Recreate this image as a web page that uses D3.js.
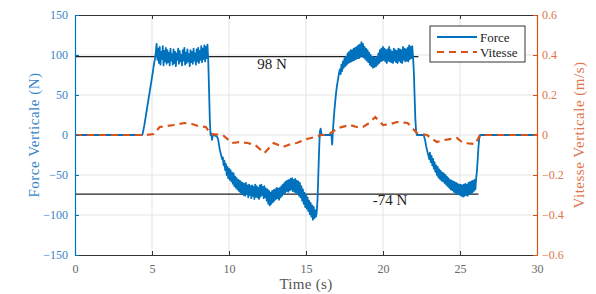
<!DOCTYPE html>
<html>
<head>
<meta charset="utf-8">
<script src="https://cdn.jsdelivr.net/npm/d3@7"></script>
<style>
  body { margin: 0; background: #fff; }
  svg text { font-family: "Liberation Serif", "Times New Roman", serif; }
</style>
</head>
<body>
<svg id="chart" width="596" height="294" font-family="Liberation Serif"></svg>
<script>
// FORCE / VITESSE CHART

// DATA
// force sampled every 0.05 s from 0 to 30 s (one line per second)
var sampleStep = 0.05;
var forceN = [
  0, 0, 0, 0, 0, 0, 0, 0, 0, 0, 0, 0, 0, 0, 0, 0, 0, 0, 0, 0,
  0, 0, 0, 0, 0, 0, 0, 0, 0, 0, 0, 0, 0, 0, 0, 0, 0, 0, 0, 0,
  0, 0, 0, 0, 0, 0, 0, 0, 0, 0, 0, 0, 0, 0, 0, 0, 0, 0, 0, 0,
  0, 0, 0, 0, 0, 0, 0, 0, 0, 0, 0, 0, 0, 0, 0, 0, 0, 0, 0, 0,
  0, 0, 0, 0, 0, 0, 0, 0, 2, 7, 12, 18, 24, 30, 36, 42, 48, 54, 60, 66,
  72, 78, 85, 91, 96, 104, 114, 94, 108, 90, 110, 88, 104, 95, 111, 87, 105, 92, 109, 89,
  106, 91, 103, 87, 108, 93, 101, 88, 107, 90, 104, 86, 102, 94, 108, 89, 105, 92, 100, 87,
  106, 93, 109, 88, 103, 90, 107, 92, 101, 86, 106, 91, 104, 89, 108, 93, 102, 88, 107, 92,
  109, 90, 105, 94, 111, 91, 108, 95, 112, 92, 110, 96, 113, 94, 60, 22, 0, 2, -6, 0,
  0, 0, -1, -1, -2, -3, -6, -12, -18, -22, -26, -30, -28, -38, -32, -44, -36, -50, -40, -54,
  -42, -56, -44, -58, -47, -61, -48, -64, -52, -66, -54, -68, -56, -70, -57, -72, -59, -73, -60, -75,
  -61, -76, -60, -74, -63, -78, -62, -75, -64, -79, -63, -76, -65, -80, -62, -77, -64, -78, -66, -80,
  -63, -77, -62, -75, -65, -79, -64, -78, -67, -82, -68, -86, -70, -88, -72, -86, -70, -84, -69, -82,
  -68, -80, -66, -79, -67, -81, -66, -78, -64, -76, -62, -74, -60, -72, -58, -70, -57, -71, -56, -69,
  -55, -68, -54, -70, -56, -71, -55, -72, -57, -73, -58, -76, -60, -78, -64, -82, -68, -86, -72, -90,
  -75, -92, -78, -95, -82, -99, -85, -102, -88, -106, -90, -104, -94, -102, -96, -80, -50, -20, 4, 8,
  2, 0, 0, 0, 0, 0, 0, 0, 0, 0, 0, 0, 0, 0, -12, 6, 20, 32, 42, 52,
  60, 66, 72, 78, 82, 76, 88, 80, 92, 84, 96, 86, 98, 88, 102, 90, 104, 91, 106, 92,
  106, 93, 108, 94, 109, 95, 110, 96, 112, 96, 113, 98, 116, 99, 114, 97, 110, 95, 108, 93,
  106, 91, 103, 88, 100, 86, 98, 84, 97, 85, 96, 86, 98, 88, 102, 90, 106, 92, 108, 93,
  110, 94, 108, 92, 106, 90, 107, 93, 110, 92, 106, 91, 104, 90, 108, 93, 106, 91, 105, 90,
  108, 93, 107, 91, 106, 90, 110, 94, 108, 92, 107, 93, 109, 92, 112, 95, 110, 96, 111, 97,
  80, 50, 20, 4, 0, 0, 0, 0, 0, 0, 0, 0, 0, 0, -4, -8, -14, -18, -22, -26,
  -30, -22, -34, -26, -38, -30, -42, -34, -46, -38, -50, -40, -53, -43, -55, -45, -57, -47, -58, -48,
  -60, -50, -62, -52, -64, -54, -66, -56, -68, -57, -69, -58, -71, -59, -72, -60, -73, -61, -74, -62,
  -75, -62, -76, -63, -77, -62, -76, -61, -75, -62, -76, -60, -74, -59, -73, -58, -72, -57, -70, -56,
  -68, -54, -45, -30, -15, -4, 0, 0, 0, 0, 0, 0, 0, 0, 0, 0, 0, 0, 0, 0,
  0, 0, 0, 0, 0, 0, 0, 0, 0, 0, 0, 0, 0, 0, 0, 0, 0, 0, 0, 0,
  0, 0, 0, 0, 0, 0, 0, 0, 0, 0, 0, 0, 0, 0, 0, 0, 0, 0, 0, 0,
  0, 0, 0, 0, 0, 0, 0, 0, 0, 0, 0, 0, 0, 0, 0, 0, 0, 0, 0, 0,
  0
];

var vitesseT = [0, 4.6, 5.1, 5.5, 6.0, 6.4, 7.1, 7.6, 8.0, 8.5, 8.8, 9.6, 10.2, 10.7, 11.2, 11.7,
  12.3, 12.9, 13.5, 14.0, 14.4, 15.05, 15.6, 16.0, 16.4, 17.1, 17.85, 18.3, 18.7, 19.1, 19.5,
  20.0, 20.5, 20.9, 21.6, 22.2, 22.85, 23.5, 24.0, 24.8, 25.2, 26.0, 26.3, 30];
var vitesseV = [0, 0, 0.005, 0.04, 0.045, 0.05, 0.06, 0.055, 0.045, 0.04, 0.005, 0, -0.04, -0.035, -0.04, -0.05,
  -0.09, -0.04, -0.06, -0.045, -0.04, -0.02, -0.01, 0, 0, 0.035, 0.05, 0.04, 0.04, 0.06, 0.09,
  0.05, 0.055, 0.065, 0.06, 0.01, 0, -0.035, -0.025, -0.015, -0.04, -0.045, 0, 0];

// reference levels
var refValues = [98, -74];
var refEnds = [22.3, 26.2];
var refLabels = ["98 N", "-74 N"];
var refLabelT = [12.8, 20.45];

var xTicks = [0, 5, 10, 15, 20, 25, 30];
var leftTicks = [-150, -100, -50, 0, 50, 100, 150];
var rightTicks = [-0.6, -0.4, -0.2, 0, 0.2, 0.4, 0.6];
var seriesNames = ["Force", "Vitesse"];

// COLORS
var blue = "#0072BD";
var orange = "#D95319";
var blueText = "#3a86c6";
var orangeText = "#e0744a";

// DRAWING AREA
var plotLeft = 75, plotRight = 537, plotTop = 15, plotBottom = 255;

var svg = d3.select("#chart");

var xScale = d3.scaleLinear().domain([0, 30]).range([plotLeft, plotRight]);
var yForce = d3.scaleLinear().domain([-150, 150]).range([plotBottom, plotTop]);
var yVit = d3.scaleLinear().domain([-0.6, 0.6]).range([plotBottom, plotTop]);

// GRID
svg.append("g").selectAll("line")
  .data(xTicks.slice(1, -1))
  .enter().append("line")
  .attr("x1", d => xScale(d)).attr("x2", d => xScale(d))
  .attr("y1", plotTop).attr("y2", plotBottom)
  .style("stroke", "#e3e3e3").style("stroke-width", 1);

svg.append("g").selectAll("line")
  .data(leftTicks.slice(1, -1))
  .enter().append("line")
  .attr("x1", plotLeft).attr("x2", plotRight)
  .attr("y1", d => yForce(d)).attr("y2", d => yForce(d))
  .style("stroke", "#e3e3e3").style("stroke-width", 1);

// AXES
var xAxisBottom = d3.axisBottom(xScale).tickValues(xTicks).tickSizeInner(-4).tickSizeOuter(0).tickPadding(9);
var xAxisTop = d3.axisTop(xScale).tickValues(xTicks).tickSizeInner(-4).tickSizeOuter(0).tickFormat("");
var yAxisLeft = d3.axisLeft(yForce).tickValues(leftTicks).tickSizeInner(-4).tickSizeOuter(0).tickPadding(7);
var yAxisRight = d3.axisRight(yVit).tickValues(rightTicks).tickSizeInner(-4).tickSizeOuter(0).tickPadding(5)
  .tickFormat(d => d === 0 ? "0" : d3.format(".1f")(d));

function styleAxis(g, color, textColor) {
  g.attr("font-family", "Liberation Serif");
  g.select(".domain").style("stroke", color).style("stroke-width", 1.2);
  g.selectAll(".tick line").style("stroke", color);
  g.selectAll(".tick text").style("fill", textColor).style("font-size", "12px");
}

svg.append("g").attr("transform", "translate(0," + plotBottom + ")").call(xAxisBottom)
  .call(g => styleAxis(g, "#333", "#666"));
svg.append("g").attr("transform", "translate(0," + plotTop + ")").call(xAxisTop)
  .call(g => styleAxis(g, "#333", "#666"));

// REFERENCE LINES
refValues.forEach(function (v, i) {
  svg.append("line")
    .attr("x1", xScale(0)).attr("x2", xScale(refEnds[i]))
    .attr("y1", yForce(v)).attr("y2", yForce(v))
    .style("stroke", "#222").style("stroke-width", 1.3);
});

// FORCE LINE
var forceLine = d3.line()
  .x((d, i) => xScale(i * sampleStep))
  .y(d => yForce(d));

svg.append("path")
  .datum(forceN)
  .attr("d", forceLine)
  .style("fill", "none").style("stroke", blue).style("stroke-width", 1.8)
  .style("stroke-linejoin", "round");

// VITESSE LINE
var vitLine = d3.line()
  .x((d, i) => xScale(vitesseT[i]))
  .y(d => yVit(d));

svg.append("path")
  .datum(vitesseV)
  .attr("d", vitLine)
  .style("fill", "none").style("stroke", orange).style("stroke-width", 2.2)
  .style("stroke-dasharray", "7,5");

// LEFT / RIGHT AXES on top of lines
svg.append("g").attr("transform", "translate(" + plotLeft + ",0)").call(yAxisLeft)
  .call(g => styleAxis(g, blue, blueText));
svg.append("g").attr("transform", "translate(" + plotRight + ",0)").call(yAxisRight)
  .call(g => styleAxis(g, orange, orangeText));

// REFERENCE LABELS
refValues.forEach(function (v, i) {
  svg.append("text")
    .attr("x", xScale(refLabelT[i]))
    .attr("y", yForce(v) + (v > 0 ? 12.5 : 11))
    .attr("text-anchor", "middle")
    .style("font-size", "15px").style("fill", "#222")
    .text(refLabels[i]);
});

// AXIS TITLES
svg.append("text")
  .attr("x", (plotLeft + plotRight) / 2).attr("y", 289)
  .attr("text-anchor", "middle")
  .style("font-size", "15px").style("fill", "#555").style("letter-spacing", "0.3px")
  .text("Time (s)");

svg.append("text")
  .attr("transform", "translate(39," + ((plotTop + plotBottom) / 2) + ") rotate(-90)")
  .attr("text-anchor", "middle")
  .style("font-size", "15px").style("fill", blueText).style("letter-spacing", "0.5px")
  .text("Force Verticale (N)");

svg.append("text")
  .attr("transform", "translate(584," + ((plotTop + plotBottom) / 2) + ") rotate(-90)")
  .attr("text-anchor", "middle")
  .style("font-size", "15px").style("fill", orangeText).style("letter-spacing", "0.5px")
  .text("Vitesse Verticale (m/s)");

// LEGEND
var legend = svg.append("g").attr("transform", "translate(430,26)");
legend.append("rect")
  .attr("width", 95).attr("height", 36)
  .style("fill", "#fff").style("stroke", "#333").style("stroke-width", 1);

seriesNames.forEach(function (name, i) {
  legend.append("line")
    .attr("x1", 7).attr("x2", 47)
    .attr("y1", 11 + i * 15).attr("y2", 11 + i * 15)
    .style("stroke", i === 0 ? blue : orange)
    .style("stroke-width", i === 0 ? 2 : 2.2)
    .style("stroke-dasharray", i === 0 ? null : "7,5");
  legend.append("text")
    .attr("x", 50).attr("y", 15.5 + i * 15)
    .style("font-size", "13px").style("fill", "#222")
    .text(name);
});
</script>
</body>
</html>
